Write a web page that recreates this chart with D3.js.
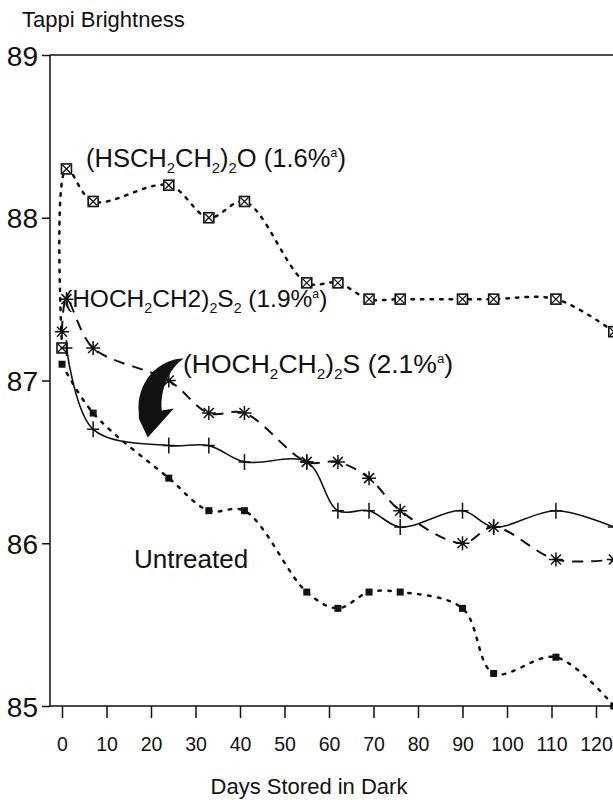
<!DOCTYPE html>
<html>
<head>
<meta charset="utf-8">
<script src="https://cdn.jsdelivr.net/npm/d3@7"></script>
<style>
  body { margin: 0; background: #fff; }
  text { font-family: "Liberation Sans", Arial, sans-serif; fill: #111; }
</style>
</head>
<body>
<div class="chart"></div>
<script>
// data
const days = [0, 1, 7, 24, 33, 41, 55, 62, 69, 76, 90, 97, 111, 124]
const hschO = [87.2, 88.3, 88.1, 88.2, 88.0, 88.1, 87.6, 87.6, 87.5, 87.5, 87.5, 87.5, 87.5, 87.3]
const hochS2 = [87.3, 87.5, 87.2, 87.0, 86.8, 86.8, 86.5, 86.5, 86.4, 86.2, 86.0, 86.1, 85.9, 85.9]
const sulfideDays = [1, 7, 24, 33, 41, 55, 62, 69, 76, 90, 97, 111, 124]
const hochS = [87.2, 86.7, 86.6, 86.6, 86.5, 86.5, 86.2, 86.2, 86.1, 86.2, 86.1, 86.2, 86.1]
const untreatedDays = [0, 7, 24, 33, 41, 55, 62, 69, 76, 90, 97, 111, 124]
const untreated = [87.1, 86.8, 86.4, 86.2, 86.2, 85.7, 85.6, 85.7, 85.7, 85.6, 85.2, 85.3, 85.0]
const xTicks = [0, 10, 20, 30, 40, 50, 60, 70, 80, 90, 100, 110, 120]
const yTicks = [85, 86, 87, 88, 89]

const W = 613, H = 800
const FONT = '"Liberation Sans", Arial, sans-serif'

const svg = d3.select('.chart')
  .append('svg')
    .attr('width', W)
    .attr('height', H)

const x = d3.scaleLinear().domain([0, 120]).range([62, 596])
const y = d3.scaleLinear().domain([85, 89]).range([706, 55])
const xMin = -2.7, xMax = 135

// frame: top line, left axis, bottom axis
svg.append('line')
  .attr('x1', x(xMin)).attr('x2', x(xMax))
  .attr('y1', y(89)).attr('y2', y(89))
  .style('stroke', '#111').style('stroke-width', 1.5)

const yAxis = d3.axisLeft(y).tickValues(yTicks).tickSize(8).tickSizeOuter(0).tickFormat(d3.format('d'))
svg.append('g')
  .attr('transform', `translate(${x(xMin)},0)`)
  .call(yAxis)
  .call(g => g.select('.domain').remove())
  .call(g => g.selectAll('line').style('stroke', '#111').style('stroke-width', 1.5))
  .call(g => g.selectAll('text').attr('x', -12).attr('dy', '0.36em')
    .style('font-size', '28px').style('font-family', FONT).style('fill', '#111'))

svg.append('line')
  .attr('x1', x(xMin)).attr('x2', x(xMin))
  .attr('y1', y(89)).attr('y2', y(85))
  .style('stroke', '#111').style('stroke-width', 1.5)

const xAxis = d3.axisBottom(x).tickValues(xTicks).tickSize(12).tickSizeOuter(0)
svg.append('g')
  .attr('transform', `translate(0,${y(85)})`)
  .call(xAxis)
  .call(g => g.select('.domain').remove())
  .call(g => g.selectAll('line').style('stroke', '#111').style('stroke-width', 1.5))
  .call(g => g.selectAll('text').attr('y', 31)
    .style('font-size', '19.5px').style('font-family', FONT).style('fill', '#111'))

svg.append('line')
  .attr('x1', x(xMin)).attr('x2', x(xMax))
  .attr('y1', y(85)).attr('y2', y(85))
  .style('stroke', '#111').style('stroke-width', 1.5)

// axis titles
svg.append('text')
  .attr('x', 22).attr('y', 27)
  .style('font-size', '22px')
  .text('Tappi Brightness')

svg.append('text')
  .attr('x', 309).attr('y', 794)
  .attr('text-anchor', 'middle')
  .style('font-size', '22px')
  .text('Days Stored in Dark')

// lines
const line = d3.line()
  .x(d => x(d[0]))
  .y(d => y(d[1]))
  .curve(d3.curveCatmullRom.alpha(0.5))

const zip = (xs, ys) => xs.map((d, i) => [d, ys[i]])

const series = [
  { pts: zip(days, hschO), dash: '2.5 7', width: 2.5, marker: 'boxx' },
  { pts: zip(days, hochS2), dash: '11 8', width: 2, marker: 'star' },
  { pts: zip(sulfideDays, hochS), dash: null, width: 1.6, marker: 'plus' },
  { pts: zip(untreatedDays, untreated), dash: '2.5 7.5', width: 2.5, marker: 'square' }
]

series.forEach(s => {
  svg.append('path')
    .datum(s.pts)
    .attr('d', line)
    .style('fill', 'none')
    .style('stroke', '#111')
    .style('stroke-width', s.width)
    .style('stroke-dasharray', s.dash)
    .style('stroke-linecap', s.dash && s.dash.startsWith('2.5') ? 'round' : 'butt')

  const g = svg.append('g')
  const m = g.selectAll('g').data(s.pts).join('g')
    .attr('transform', d => `translate(${x(d[0])},${y(d[1])})`)

  if (s.marker === 'boxx') {
    m.append('rect').attr('x', -5).attr('y', -5).attr('width', 10).attr('height', 10)
      .style('fill', '#fff').style('stroke', '#111').style('stroke-width', 1.6)
    m.append('path').attr('d', 'M-4,-4L4,4M4,-4L-4,4')
      .style('stroke', '#111').style('stroke-width', 1.3)
  } else if (s.marker === 'star') {
    m.append('path').attr('d', 'M0,-7L0,7M-7,0L7,0M-5,-5L5,5M5,-5L-5,5')
      .style('stroke', '#111').style('stroke-width', 1.5)
  } else if (s.marker === 'plus') {
    m.append('path').attr('d', 'M0,-8L0,8M-6,0L6,0')
      .style('stroke', '#111').style('stroke-width', 1.5)
  } else {
    m.append('rect').attr('x', -3.5).attr('y', -3.5).attr('width', 7).attr('height', 7)
      .style('fill', '#111')
  }
})

// annotations
const label = (tx, ty, size, parts) => {
  const t = svg.append('text').attr('x', tx).attr('y', ty).style('font-size', size + 'px')
  parts.forEach(p => {
    const sp = t.append('tspan').text(p[0])
    if (p[1] === 'sub') sp.style('font-size', size * 0.58 + 'px').attr('dy', size * 0.23)
    else if (p[1] === 'back') sp.attr('dy', -size * 0.23)
    else if (p[1] === 'sup') sp.style('font-size', size * 0.5 + 'px').attr('dy', -size * 0.38)
    else if (p[1] === 'down') sp.attr('dy', size * 0.38)
  })
}

label(86, 167, 25.5, [['(HSCH'], ['2', 'sub'], ['CH', 'back'], ['2', 'sub'], [')', 'back'], ['2', 'sub'], ['O (1.6%', 'back'], ['a', 'sup'], [')', 'down']])
label(64, 307, 24.5, [['(HOCH'], ['2', 'sub'], ['CH2)', 'back'], ['2', 'sub'], ['S', 'back'], ['2', 'sub'], [' (1.9%', 'back'], ['a', 'sup'], [')', 'down']])
label(183, 373, 26.5, [['(HOCH'], ['2', 'sub'], ['CH', 'back'], ['2', 'sub'], [')', 'back'], ['2', 'sub'], ['S (2.1%', 'back'], ['a', 'sup'], [')', 'down']])

svg.append('text')
  .attr('x', 134).attr('y', 568)
  .style('font-size', '26px')
  .text('Untreated')

// curved black arrow pointing from the sulfide label to its curve
const ax = x(24), ay = y(87)
const arrow = d3.path()
arrow.moveTo(ax + 15, ay - 22)
arrow.bezierCurveTo(ax - 10, ay - 22, ax - 33, ay + 2, ax - 30, ay + 32)
arrow.lineTo(ax - 30, ay + 38)
arrow.lineTo(ax - 21, ay + 57)
arrow.lineTo(ax + 5, ay + 28)
arrow.lineTo(ax - 7, ay + 30)
arrow.bezierCurveTo(ax - 9, ay + 10, ax, ay - 12, ax + 15, ay - 22)
arrow.closePath()
svg.append('path')
  .attr('d', arrow.toString())
  .style('fill', '#111')
</script>
</body>
</html>
